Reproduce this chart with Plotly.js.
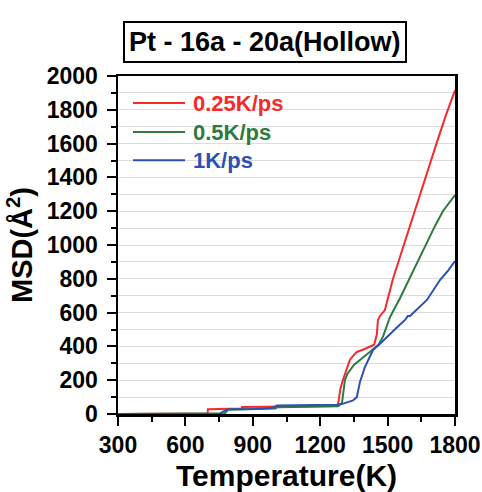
<!DOCTYPE html>
<html>
<head>
<meta charset="utf-8">
<script src="https://cdn.plot.ly/plotly-3.0.1.min.js"></script>
<style>html,body{margin:0;padding:0;background:#fff;}#chart{width:482px;height:492px;}</style>
</head>
<body>
<div id="chart"></div>
<script>
// ---- data ----
const seriesNames = ['0.25K/ps', '0.5K/ps', '1K/ps'];
const seriesColors = ['#f52a2a', '#2f7a3e', '#2c50b4'];

const tRed = [300, 500, 699, 700, 760, 850, 852, 1000, 1100, 1200, 1270, 1280, 1284, 1290, 1301, 1315, 1332, 1350, 1363, 1390, 1421, 1440, 1452, 1457, 1466, 1488, 1524, 1560, 1600, 1640, 1680, 1720, 1760, 1800];
const msdRed = [0, 2, 3, 28, 30, 32, 42, 44, 45, 47, 48, 60, 100, 150, 201, 260, 320, 350, 367, 380, 396, 410, 470, 556, 580, 615, 800, 950, 1120, 1280, 1440, 1610, 1770, 1915];

const tGreen = [300, 500, 760, 776, 790, 850, 1000, 1010, 1100, 1200, 1280, 1297, 1305, 1310, 1320, 1332, 1350, 1377, 1405, 1435, 1460, 1479, 1495, 1511, 1555, 1600, 1640, 1675, 1710, 1746, 1775, 1800];
const msdGreen = [0, 1, 2, 5, 25, 28, 32, 40, 42, 44, 46, 65, 140, 201, 235, 260, 290, 320, 350, 379, 410, 456, 520, 574, 685, 811, 920, 1012, 1110, 1200, 1250, 1296];

const tBlue = [300, 500, 754, 770, 790, 900, 985, 1008, 1100, 1200, 1275, 1300, 1346, 1363, 1370, 1377, 1399, 1408, 1435, 1470, 1497, 1540, 1580, 1590, 1600, 1630, 1675, 1733, 1770, 1800];
const msdBlue = [0, 1, 2, 15, 28, 30, 35, 50, 52, 53, 55, 60, 80, 100, 140, 190, 278, 302, 379, 420, 456, 510, 560, 580, 580, 620, 675, 793, 850, 905];

const xTicks = [300, 600, 900, 1200, 1500, 1800];
const yTicks = [0, 200, 400, 600, 800, 1000, 1200, 1400, 1600, 1800, 2000];
const titleText = 'Pt - 16a - 20a(Hollow)';

// ---- chart ----
const FONT = 'Liberation Sans, Arial, sans-serif';
const xs = [tRed, tGreen, tBlue];
const ys = [msdRed, msdGreen, msdBlue];
const traces = seriesNames.map((n, i) => ({
  x: xs[i], y: ys[i], name: n, type: 'scatter', mode: 'lines',
  line: {color: seriesColors[i], width: 2}, showlegend: false
}));

const legY = [0.920, 0.834, 0.751];
const shapes = [];
const annotations = [{
  text: titleText, xref: 'paper', yref: 'paper', x: 0.436, y: 1.10,
  xanchor: 'center', yanchor: 'middle', showarrow: false,
  font: {family: FONT, size: 27, color: '#000', weight: 'bold'},
  bordercolor: '#000', borderwidth: 2, borderpad: 4, bgcolor: '#fff'
}];
seriesNames.forEach((n, i) => {
  shapes.push({type: 'line', xref: 'paper', yref: 'paper', x0: 0.0445, x1: 0.199, y0: legY[i], y1: legY[i],
    line: {color: seriesColors[i], width: 2}});
  annotations.push({text: n, xref: 'paper', yref: 'paper', x: 0.216, y: legY[i], xanchor: 'left', yanchor: 'middle',
    showarrow: false, font: {family: FONT, size: 22, color: seriesColors[i], weight: 'bold'}});
});

const layout = {
  width: 482, height: 492,
  margin: {l: 118, r: 27, t: 76, b: 78},
  paper_bgcolor: '#fff', plot_bgcolor: '#fff',
  showlegend: false,
  font: {family: FONT, color: '#000'},
  xaxis: {
    range: [300, 1800], tickvals: xTicks, ticktext: xTicks.map(String),
    showgrid: false, zeroline: false,
    showline: true, linecolor: '#000', linewidth: 2.5, mirror: true,
    ticks: 'outside', ticklen: 9, tickwidth: 2, tickcolor: '#000',
    minor: {dtick: 150, tick0: 300, ticks: 'outside', ticklen: 5, tickwidth: 2, tickcolor: '#000', showgrid: false},
    tickfont: {family: FONT, size: 23, weight: 'bold'},
    title: {text: 'Temperature(K)', font: {family: FONT, size: 30, weight: 'bold'}, standoff: 8},
    automargin: false
  },
  yaxis: {
    range: [0, 2000], tickvals: yTicks, ticktext: yTicks.map(String),
    showgrid: true, gridcolor: '#dcdcdc', gridwidth: 1, zeroline: false,
    showline: true, linecolor: '#000', linewidth: 2.5, mirror: true,
    ticks: 'outside', ticklen: 9, tickwidth: 2, tickcolor: '#000',
    ticklabelstandoff: 4,
    minor: {dtick: 100, tick0: 0, ticks: 'outside', ticklen: 5, tickwidth: 2, tickcolor: '#000', showgrid: true, gridcolor: '#dcdcdc', gridwidth: 1},
    tickfont: {family: FONT, size: 23, weight: 'bold'},
    title: {text: 'MSD(Å<sup>2</sup>)', font: {family: FONT, size: 29, weight: 'bold'}, standoff: 6},
    automargin: false
  },
  shapes: shapes,
  annotations: annotations
};

Plotly.newPlot('chart', traces, layout, {displayModeBar: false, staticPlot: true});
</script>
</body>
</html>
